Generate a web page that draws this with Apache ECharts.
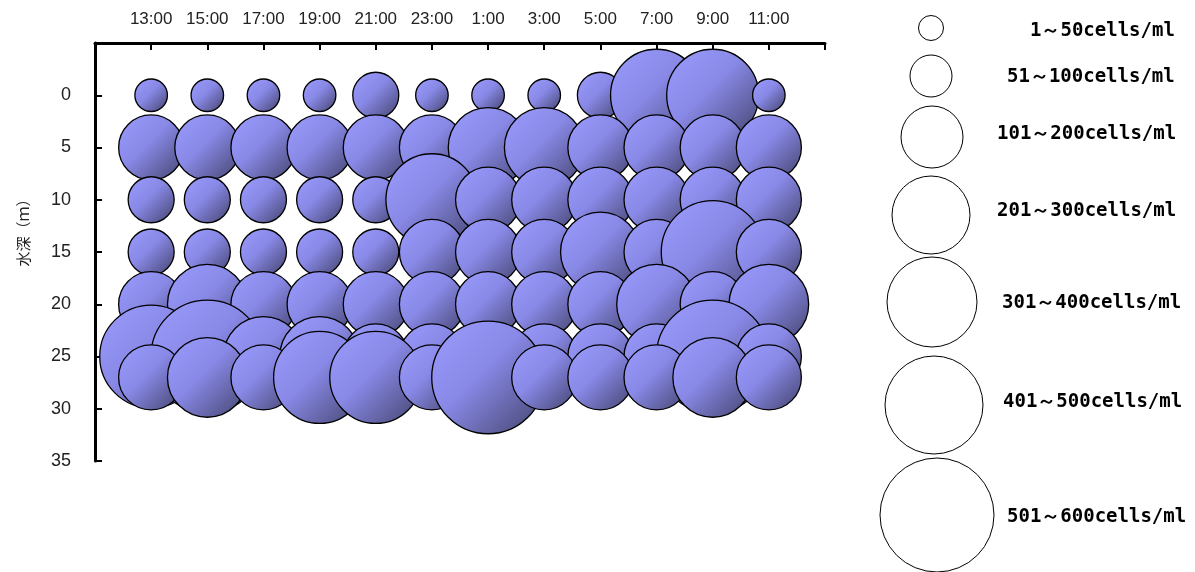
<!DOCTYPE html>
<html>
<head>
<meta charset="utf-8">
<script src="https://cdn.jsdelivr.net/npm/echarts@6/dist/echarts.min.js"></script>
<style>
html,body{margin:0;padding:0;background:#fff;}
#chart{width:1195px;height:572px;}
</style>
</head>
<body>
<div id="chart"></div>
<script>
// ---- data ----
const times = ['13:00','15:00','17:00','19:00','21:00','23:00','1:00','3:00','5:00','7:00','9:00','11:00'];
const depths = [0, 5, 10, 15, 20, 25, 27];
const yTicks = [0, 5, 10, 15, 20, 25, 30, 35];
// cells/ml at each depth, per time
const depth0  = [50, 50, 50, 50, 100, 50, 50, 50, 100, 400, 400, 50];
const depth5  = [200, 200, 200, 200, 200, 200, 300, 300, 200, 200, 200, 200];
const depth10 = [100, 100, 100, 100, 100, 400, 200, 200, 200, 200, 200, 200];
const depth15 = [100, 100, 100, 100, 100, 200, 200, 200, 300, 200, 500, 200];
const depth20 = [200, 300, 200, 200, 200, 200, 200, 200, 200, 300, 200, 300];
const depth25 = [500, 600, 300, 300, 200, 200, 200, 200, 200, 200, 600, 200];
const depth27 = [200, 300, 200, 400, 400, 200, 600, 200, 200, 200, 300, 200];
const legendLabels = ['1～50cells/ml','51～100cells/ml','101～200cells/ml','201～300cells/ml','301～400cells/ml','401～500cells/ml','501～600cells/ml'];
const yAxisName = '水深（ｍ）';

// ---- chart ----
const rows = [depth0, depth5, depth10, depth15, depth20, depth25, depth27];
const bubbleColor = {
  type: 'linear', x: 0, y: 0, x2: 1, y2: 1,
  colorStops: [
    {offset: 0, color: '#9c9cff'},
    {offset: 0.45, color: '#8888e6'},
    {offset: 1, color: '#42426a'}
  ]
};
const series = rows.map((vals, ri) => ({
  type: 'scatter',
  name: depths[ri] + 'm',
  clip: false,
  data: vals.map((v, ci) => [ci + 1, depths[ri], v]),
  symbolSize: d => 4.6 * Math.sqrt(d[2]),
  itemStyle: {color: bubbleColor, borderColor: '#000', borderWidth: 1.3, opacity: 1},
  emphasis: {disabled: true}
}));

// legend (hand-drawn style key on the right)
const legendLayout = [
  {cx: 931, cy: 28,  r: 12.5, tx: 1030, ty: 31},
  {cx: 931, cy: 76,  r: 21,   tx: 1007, ty: 77},
  {cx: 932, cy: 137, r: 31,   tx: 997,  ty: 134},
  {cx: 931, cy: 215, r: 39,   tx: 997,  ty: 211},
  {cx: 932, cy: 302, r: 45,   tx: 1002, ty: 303},
  {cx: 934, cy: 405, r: 49,   tx: 1003, ty: 402},
  {cx: 937, cy: 515, r: 57,   tx: 1007, ty: 517}
];
const graphic = [];
legendLabels.forEach((lab, i) => {
  const L = legendLayout[i];
  graphic.push({type: 'circle', shape: {cx: L.cx, cy: L.cy, r: L.r},
    style: {fill: '#fff', stroke: '#000', lineWidth: 1}});
  graphic.push({type: 'text', x: L.tx, y: L.ty,
    style: {text: lab, fill: '#000', font: 'bold 19px "DejaVu Sans Mono", monospace',
      textAlign: 'left', textVerticalAlign: 'middle'}});
});

const chart = echarts.init(document.getElementById('chart'), null, {renderer: 'canvas'});
chart.setOption({
  animation: false,
  grid: {left: 95, right: 370, top: 43, bottom: 111, containLabel: false},
  xAxis: {
    type: 'value', position: 'top', min: 0, max: times.length + 1, interval: 1,
    axisLine: {show: true, onZero: false, lineStyle: {color: '#000', width: 3}},
    axisTick: {show: true, inside: true, length: 7, lineStyle: {color: '#000', width: 2}},
    axisLabel: {
      formatter: v => times[v - 1] || '',
      fontSize: 17, color: '#222', margin: 15, fontFamily: 'Liberation Sans'
    },
    splitLine: {show: false}
  },
  yAxis: {
    type: 'value', inverse: true, min: -5, max: 35, interval: 5,
    name: yAxisName, nameLocation: 'middle', nameRotate: 90, nameGap: 64,
    nameTextStyle: {fontSize: 15, color: '#222', fontFamily: 'Noto Sans CJK JP', padding: [0, 0, 0, 46]},
    axisLine: {show: true, onZero: false, lineStyle: {color: '#000', width: 3}},
    axisTick: {show: true, inside: true, length: 7, lineStyle: {color: '#000', width: 2}},
    axisLabel: {
      formatter: v => (yTicks.indexOf(v) >= 0 ? String(v) : ''),
      fontSize: 18, color: '#222', margin: 24, fontFamily: 'Liberation Sans'
    },
    splitLine: {show: false}
  },
  tooltip: {show: false},
  graphic: graphic,
  series: series
});
</script>
</body>
</html>
